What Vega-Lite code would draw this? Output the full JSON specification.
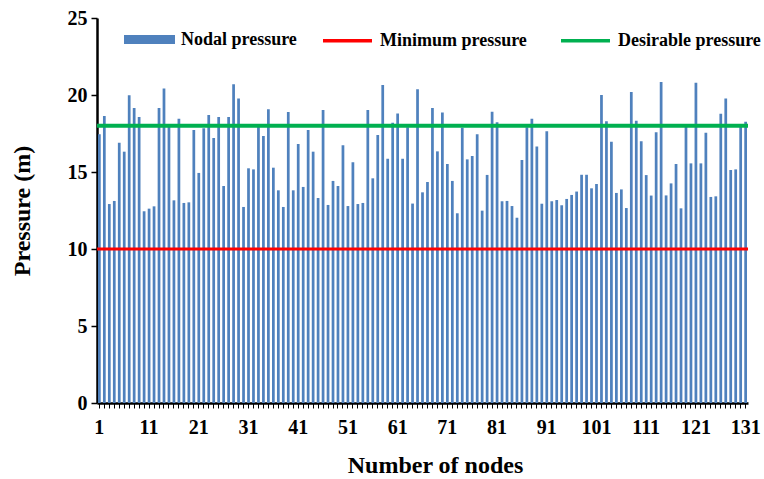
{
  "$schema": "https://vega.github.io/schema/vega-lite/v6.json",
  "width": 651,
  "height": 385,
  "autosize": "none",
  "padding": {"left": 97, "top": 18, "right": 16, "bottom": 76},
  "background": "white",
  "config": {
    "view": {"stroke": null},
    "font": "Liberation Serif"
  },
  "datasets": {
    "nodes": [
      {"node":1,"pressure":17.45},{"node":2,"pressure":18.64},{"node":3,"pressure":12.92},{"node":4,"pressure":13.12},{"node":5,"pressure":16.9},
      {"node":6,"pressure":16.32},{"node":7,"pressure":19.98},{"node":8,"pressure":19.16},{"node":9,"pressure":18.57},{"node":10,"pressure":12.45},
      {"node":11,"pressure":12.62},{"node":12,"pressure":12.77},{"node":13,"pressure":19.16},{"node":14,"pressure":20.43},{"node":15,"pressure":18.1},
      {"node":16,"pressure":13.16},{"node":17,"pressure":18.46},{"node":18,"pressure":12.99},{"node":19,"pressure":13.03},{"node":20,"pressure":17.73},
      {"node":21,"pressure":14.94},{"node":22,"pressure":17.84},{"node":23,"pressure":18.7},{"node":24,"pressure":17.21},{"node":25,"pressure":18.57},
      {"node":26,"pressure":14.09},{"node":27,"pressure":18.57},{"node":28,"pressure":20.69},{"node":29,"pressure":19.78},{"node":30,"pressure":12.73},
      {"node":31,"pressure":15.24},{"node":32,"pressure":15.17},{"node":33,"pressure":18.12},{"node":34,"pressure":17.34},{"node":35,"pressure":19.07},
      {"node":36,"pressure":15.28},{"node":37,"pressure":13.81},{"node":38,"pressure":12.73},{"node":39,"pressure":18.9},{"node":40,"pressure":13.81},
      {"node":41,"pressure":16.82},{"node":42,"pressure":14.03},{"node":43,"pressure":17.73},{"node":44,"pressure":16.32},{"node":45,"pressure":13.31},
      {"node":46,"pressure":19.03},{"node":47,"pressure":12.86},{"node":48,"pressure":14.42},{"node":49,"pressure":14.09},{"node":50,"pressure":16.73},
      {"node":51,"pressure":12.79},{"node":52,"pressure":15.63},{"node":53,"pressure":12.92},{"node":54,"pressure":12.99},{"node":55,"pressure":19.03},
      {"node":56,"pressure":14.59},{"node":57,"pressure":17.4},{"node":58,"pressure":20.65},{"node":59,"pressure":15.86},{"node":60,"pressure":18.2},
      {"node":61,"pressure":18.8},{"node":62,"pressure":15.86},{"node":63,"pressure":17.9},{"node":64,"pressure":12.95},{"node":65,"pressure":20.37},
      {"node":66,"pressure":13.68},{"node":67,"pressure":14.35},{"node":68,"pressure":19.16},{"node":69,"pressure":16.34},{"node":70,"pressure":18.87},
      {"node":71,"pressure":15.52},{"node":72,"pressure":14.42},{"node":73,"pressure":12.32},{"node":74,"pressure":17.88},{"node":75,"pressure":15.82},
      {"node":76,"pressure":16.04},{"node":77,"pressure":17.45},{"node":78,"pressure":12.49},{"node":79,"pressure":14.81},{"node":80,"pressure":18.92},
      {"node":81,"pressure":18.23},{"node":82,"pressure":13.1},{"node":83,"pressure":13.12},{"node":84,"pressure":12.79},{"node":85,"pressure":12.03},
      {"node":86,"pressure":15.78},{"node":87,"pressure":17.9},{"node":88,"pressure":18.46},{"node":89,"pressure":16.65},{"node":90,"pressure":12.94},
      {"node":91,"pressure":17.64},{"node":92,"pressure":13.1},{"node":93,"pressure":13.18},{"node":94,"pressure":12.84},{"node":95,"pressure":13.25},
      {"node":96,"pressure":13.51},{"node":97,"pressure":13.73},{"node":98,"pressure":14.82},{"node":99,"pressure":14.82},{"node":100,"pressure":13.94},
      {"node":101,"pressure":14.22},{"node":102,"pressure":20.0},{"node":103,"pressure":18.29},{"node":104,"pressure":16.97},{"node":105,"pressure":13.64},
      {"node":106,"pressure":13.87},{"node":107,"pressure":12.66},{"node":108,"pressure":20.19},{"node":109,"pressure":18.33},{"node":110,"pressure":16.99},
      {"node":111,"pressure":14.8},{"node":112,"pressure":13.47},{"node":113,"pressure":17.58},{"node":114,"pressure":20.84},{"node":115,"pressure":13.48},
      {"node":116,"pressure":14.26},{"node":117,"pressure":15.52},{"node":118,"pressure":12.64},{"node":119,"pressure":18.12},{"node":120,"pressure":15.56},
      {"node":121,"pressure":20.8},{"node":122,"pressure":15.56},{"node":123,"pressure":17.55},{"node":124,"pressure":13.38},{"node":125,"pressure":13.42},
      {"node":126,"pressure":18.79},{"node":127,"pressure":19.78},{"node":128,"pressure":15.13},{"node":129,"pressure":15.17},{"node":130,"pressure":18.12},
      {"node":131,"pressure":18.27}
    ],
    "limits": [
      {"series": "Minimum pressure", "pressure": 10},
      {"series": "Desirable pressure", "pressure": 18}
    ]
  },
  "layer": [
    {
      "data": {"name": "nodes"},
      "transform": [{"calculate": "'Nodal pressure'", "as": "series"}],
      "mark": {"type": "bar", "opacity": 1},
      "encoding": {
        "x": {
          "field": "node",
          "type": "ordinal",
          "sort": "ascending",
          "scale": {"paddingInner": 0.45, "paddingOuter": 0.2},
          "axis": {
            "title": "Number of nodes",
            "titleFont": "Liberation Serif",
            "titleFontSize": 24,
            "titleFontWeight": "bold",
            "titleColor": "black",
            "titlePadding": 16,
            "titleX": 338,
            "labelFont": "Liberation Serif",
            "labelFontSize": 20,
            "labelFontWeight": "bold",
            "labelColor": "black",
            "labelAngle": 0,
            "labelPadding": 9,
            "labelOverlap": false,
            "labelExpr": "(+datum.value - 1) % 10 === 0 ? datum.value : ''",
            "domainColor": "black",
            "domainWidth": 2.5,
            "tickColor": "black",
            "tickSize": 5,
            "tickWidth": 1,
            "grid": false
          }
        },
        "y": {
          "field": "pressure",
          "type": "quantitative",
          "scale": {"domain": [0, 25], "nice": false},
          "axis": {
            "title": "Pressure (m)",
            "titleFont": "Liberation Serif",
            "titleFontSize": 24,
            "titleFontWeight": "bold",
            "titleColor": "black",
            "titlePadding": 33,
            "values": [0, 5, 10, 15, 20, 25],
            "labelFont": "Liberation Serif",
            "labelFontSize": 20,
            "labelFontWeight": "bold",
            "labelColor": "black",
            "labelPadding": 4,
            "domainColor": "black",
            "domainWidth": 2.5,
            "tickColor": "black",
            "tickSize": 6,
            "tickWidth": 1.5,
            "grid": false
          }
        },
        "color": {
          "field": "series",
          "type": "nominal",
          "scale": {"domain": ["Nodal pressure"], "range": ["#4F81BD"]},
          "legend": {
            "title": null,
            "orient": "none",
            "legendX": 27,
            "legendY": -4,
            "direction": "horizontal",
            "symbolType": "M-1,-0.18H1V0.18H-1Z",
            "symbolSize": 2600,
            "symbolStrokeWidth": 0,
            "symbolOpacity": 1,
            "labelFont": "Liberation Serif",
            "labelFontSize": 18,
            "labelFontWeight": "bold",
            "labelColor": "black",
            "labelOffset": 6,
            "labelLimit": 300
          }
        }
      }
    },
    {
      "data": {"name": "limits"},
      "mark": {"type": "rule"},
      "encoding": {
        "y": {"field": "pressure", "type": "quantitative"},
        "stroke": {
          "field": "series",
          "type": "nominal",
          "scale": {"domain": ["Minimum pressure", "Desirable pressure"], "range": ["#FF0000", "#00B050"]},
          "legend": {
            "title": null,
            "orient": "none",
            "legendX": 224,
            "legendY": -4,
            "direction": "horizontal",
            "columns": 2,
            "columnPadding": 27,
            "symbolType": "stroke",
            "symbolSize": 2400,
            "symbolStrokeWidth": 3.5,
            "labelFont": "Liberation Serif",
            "labelFontSize": 18,
            "labelFontWeight": "bold",
            "labelColor": "black",
            "labelOffset": 6,
            "labelLimit": 300
          }
        },
        "strokeWidth": {
          "condition": {"test": "datum.series === 'Desirable pressure'", "value": 4},
          "value": 3
        }
      }
    }
  ]
}
